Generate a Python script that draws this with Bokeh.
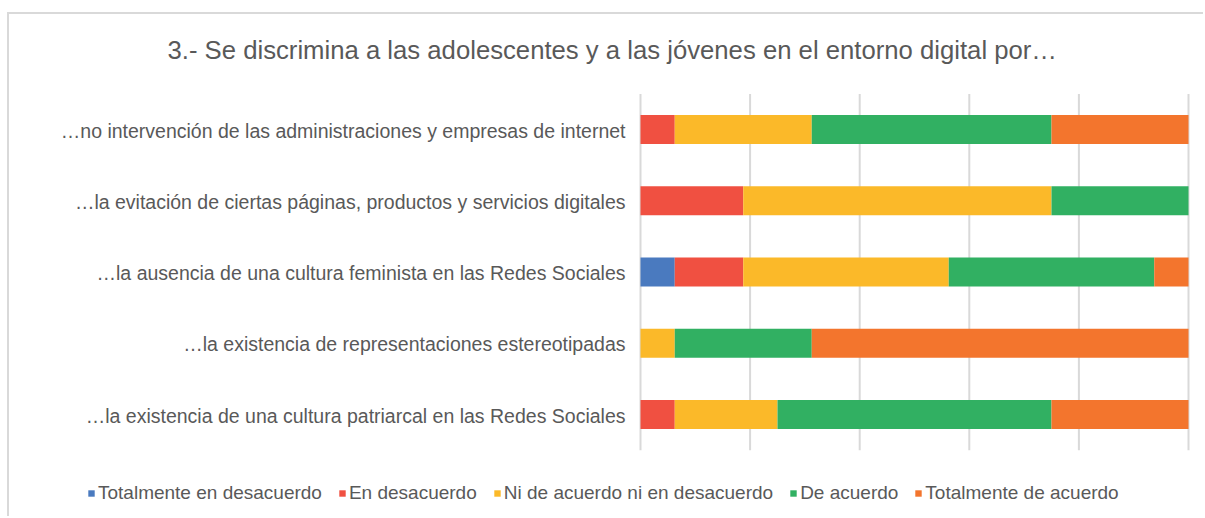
from bokeh.plotting import figure
from bokeh.models import ColumnDataSource, Range1d, Legend, LegendItem
from bokeh.core.properties import value
from bokeh.embed import file_html
from bokeh.resources import INLINE

categories = [
    "…no intervención de las administraciones y empresas de internet",
    "…la evitación de ciertas páginas, productos y servicios digitales",
    "…la ausencia de una cultura feminista en las Redes Sociales",
    "…la existencia de representaciones estereotipadas",
    "…la existencia de una cultura patriarcal en las Redes Sociales",
]
series_names = [
    "Totalmente en desacuerdo",
    "En desacuerdo",
    "Ni de acuerdo ni en desacuerdo",
    "De acuerdo",
    "Totalmente de acuerdo",
]
# response counts per item (N = 16)
tot_desacuerdo = [0, 0, 1, 0, 0]
en_desacuerdo = [1, 3, 2, 0, 1]
ni_ni = [4, 9, 6, 1, 3]
de_acuerdo = [7, 4, 6, 4, 8]
tot_acuerdo = [4, 0, 1, 11, 4]
colors = ["#4A7ABF", "#F05041", "#FBB929", "#31B062", "#F3752D"]
title_text = "3.- Se discrimina a las adolescentes y a las jóvenes en el entorno digital por…"
grid_ticks = [0, 0.2, 0.4, 0.6, 0.8, 1.0]

series = [tot_desacuerdo, en_desacuerdo, ni_ni, de_acuerdo, tot_acuerdo]
n = len(categories)
totals = [sum(s[i] for s in series) for i in range(n)]
keys = ["s%d" % i for i in range(len(series))]
data = {"row": list(range(n)), "cat": categories}
for k, s in zip(keys, series):
    data[k] = [v / t for v, t in zip(s, totals)]
source = ColumnDataSource(data)

# ---- layout (pixels on the canvas) ----
W, H = 1196, 504
PX0, PX1 = 631, 1179          # canvas x of 0% and 100%
ROW0, ROWH = 115.0, 71.25     # canvas y of first row centre, row pitch
sx = PX1 - PX0
x_range = Range1d(-PX0 / sx, (W - PX0) / sx)
y_range = Range1d((H - ROW0) / ROWH, -ROW0 / ROWH)   # rows top -> bottom

def xd(px):
    return (px - PX0) / sx

def yd(py):
    return (py - ROW0) / ROWH

p = figure(width=W, height=H, output_backend="svg", toolbar_location=None,
           x_range=x_range, y_range=y_range,
           min_border_left=0, min_border_right=0, min_border_top=0, min_border_bottom=0)
p.styles = {
    "margin-left": "7px", "margin-top": "12px",
    "border-left": "2px solid #d9d9d9", "border-top": "2px solid #d9d9d9",
}
p.axis.visible = False
p.grid.visible = False
p.outline_line_color = None
p.background_fill_color = "white"
p.border_fill_color = "white"

# vertical gridlines
p.segment(x0=grid_ticks, x1=grid_ticks, y0=[-0.5] * len(grid_ticks),
          y1=[n - 0.5] * len(grid_ticks), line_color="#d9d9d9", line_width=2)

rends = p.hbar_stack(keys, y="row", height=0.41, color=colors, source=source, line_width=0)

# category labels
p.text(x=0, y="row", text="cat", source=source, x_offset=-15, y_offset=1,
       text_align="right", text_baseline="alphabetic",
       text_font=value("Liberation Sans"), text_font_size="19.5px", text_color="#595959")

# title
p.text(x=[xd(158)], y=[yd(35)], text=[title_text],
       text_align="left", text_baseline="alphabetic",
       text_font=value("Liberation Sans"), text_font_size="25.7px", text_color="#595959")

legend = Legend(items=[LegendItem(label=nm, renderers=[r]) for nm, r in zip(series_names, rends)],
                orientation="horizontal", location=(78, 14))
legend.border_line_color = None
legend.background_fill_alpha = 0
legend.padding = 0
legend.margin = 0
legend.spacing = 16
legend.glyph_width = 8
legend.glyph_height = 8
legend.label_standoff = 3
legend.label_height = 8
legend.label_text_font = "Liberation Sans"
legend.label_text_font_size = "19px"
legend.label_text_color = "#595959"
p.add_layout(legend, "center")

open("out.html", "w").write(file_html(p, INLINE))
